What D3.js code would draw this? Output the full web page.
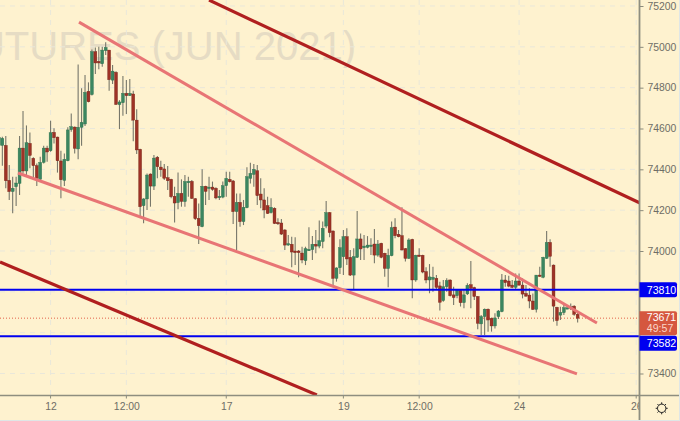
<!DOCTYPE html>
<html><head><meta charset="utf-8">
<script src="https://cdn.jsdelivr.net/npm/d3@7/dist/d3.min.js"></script>
<style>html,body{margin:0;padding:0;background:#fef2cf;overflow:hidden}svg{display:block}text{font-family:"Liberation Sans",Arial,sans-serif}</style>
</head><body><div id="chart"></div>
<script>
const opens=[74517,74517,74517,74346,74291,74315,74331,74504,74392,74527,74454,74418,74351,74434,74504,74491,74581,74558,74441,74346,74442,74594,74607,74500,74606,74622,74782,74766,74976,74929,74917,74981,74984,74837,74875,74717,74726,74772,74761,74769,74641,74498,74222,74255,74377,74318,74459,74411,74402,74359,74351,74268,74237,74282,74242,74336,74341,74256,74160,74119,74317,74307,74313,74307,74261,74264,74320,74351,74343,74193,74238,74144,74212,74356,74375,74393,74279,74250,74222,74188,74209,74140,74137,74103,74029,74033,74000,74000,73990,73953,74002,74007,74033,74024,74046,74122,74188,74098,73866,73918,73972,74070,73969,73882,73969,74059,74016,74018,74024,74034,73980,74038,73989,73914,73977,74117,74082,74075,74011,73964,74057,73858,73980,73979,73899,73858,73861,73866,73829,73757,73825,73858,73785,73781,73806,73747,73790,73835,73821,73777,73643,73679,73715,73670,73633,73679,73703,73858,73853,73833,73822,73853,73833,73792,73784,73755,73714,73882,73871,73964,74042,73931,73724,73686,73698,73719,73722,73730,73690];
const closes=[74557,74552,74344,74291,74307,74333,74504,74392,74530,74468,74418,74356,74434,74504,74485,74579,74555,74442,74349,74449,74593,74609,74503,74606,74630,74777,74731,74976,74921,74921,74984,74997,74839,74881,74718,74730,74772,74761,74772,74641,74495,74217,74255,74372,74318,74455,74413,74398,74356,74344,74266,74235,74282,74243,74340,74341,74258,74158,74124,74317,74292,74313,74302,74260,74268,74320,74356,74339,74193,74238,74144,74214,74364,74380,74400,74271,74250,74201,74184,74214,74135,74134,74083,74029,74036,73995,73992,73992,73956,74011,74008,74033,74024,74051,74111,74188,74090,73866,73917,74016,74070,73961,73882,73972,74059,74010,74024,74029,74029,73980,74034,73969,73915,73979,74114,74075,74070,74005,73964,74054,73858,73979,73975,73897,73858,73873,73871,73822,73749,73825,73855,73781,73772,73809,73747,73785,73832,73817,73777,73646,73679,73715,73662,73633,73672,73706,73858,73845,73828,73822,73853,73833,73789,73779,73755,73714,73882,73877,73969,74042,73974,73730,73659,73699,73722,73722,73727,73690,73671];
const highs=[74642,74560,74563,74421,74364,74364,74563,74686,74615,74581,74459,74429,74462,74516,74516,74638,74601,74560,74491,74478,74606,74674,74610,74914,74797,74862,74826,74987,74997,75000,75000,75022,74984,74911,74881,74739,74857,74837,74842,74785,74694,74501,74258,74380,74380,74470,74465,74442,74426,74416,74354,74315,74385,74351,74372,74364,74348,74260,74233,74400,74320,74364,74340,74312,74299,74340,74388,74388,74348,74282,74282,74250,74410,74432,74426,74421,74356,74307,74266,74258,74214,74160,74157,74106,74078,74070,74067,74005,74021,74021,74116,74073,74103,74149,74144,74245,74191,74101,73920,74057,74103,74111,74005,74013,74196,74086,74078,74073,74062,74108,74054,74041,73992,74011,74144,74160,74103,74214,74015,74062,74060,73982,74013,73982,73920,73936,73923,73882,73850,73858,73866,73861,73825,73812,73809,73812,73842,73951,73825,73780,73687,73718,73718,73674,73695,73711,73887,73882,73879,73858,73890,73890,73866,73833,73817,73792,73882,73923,73972,74098,74058,73934,73727,73727,73743,73735,73743,73734,73699];
const lows=[74462,74418,74307,74250,74185,74220,74274,74380,74372,74405,74356,74318,74348,74429,74437,74486,74527,74384,74258,74318,74439,74584,74478,74449,74516,74612,74728,74762,74867,74890,74903,74960,74785,74818,74715,74597,74663,74671,74759,74537,74475,74168,74136,74201,74217,74299,74356,74364,74348,74299,74258,74140,74204,74217,74217,74266,74255,74152,74034,74116,74225,74250,74295,74253,74250,74258,74266,74336,74132,74005,74119,74127,74209,74331,74315,74225,74209,74160,74181,74184,74132,74127,74078,74005,74026,73920,73931,73871,73940,73931,74000,73956,73989,74013,74013,74111,74067,73829,73850,73887,73882,73931,73878,73812,73966,73956,73956,74013,73980,73940,73972,73964,73874,73822,73974,74062,74067,74002,73948,73961,73768,73850,73972,73891,73842,73793,73801,73809,73708,73752,73801,73777,73736,73768,73728,73719,73785,73719,73760,73617,73589,73589,73605,73605,73621,73667,73700,73825,73823,73817,73814,73830,73768,73776,73719,73711,73699,73874,73866,73961,73923,73654,73634,73662,73686,73716,73711,73683,73650];
const gridPrices=[73400,73600,73800,74000,74200,74400,74600,74800,75000,75200];
const priceTicks=[73400,74000,74200,74400,74600,74800,75000,75200];
const timeTickIndex=[15,37,66,100,122,151,185];
const timeTickLabels=["12","12:00","17","19","12:00","24","26"];
const channelLines=[[61,75229,186.1,74235],[0.32,73946,92.3,73295]];
const wedgeLines=[[23.25,75121,173.6,73647],[5.54,74382,167.8,73398]];
const levels=[73810,73582];
const lastPrice=73671;
const countdown="49:57";
const watermark="FUTURES (JUN 2021)";

const W=680,H=421,axisX=639.5,axisY=395.5;
const x=d3.scaleLinear().domain([0,185]).range([-1.1,636.2]);
const y=d3.scaleLinear().domain([73400,75200]).range([373.5,6]);
const svg=d3.select("#chart").append("svg").attr("width",W).attr("height",H);
svg.append("rect").attr("width",W).attr("height",H).attr("fill","#fef2cf");
const defs=svg.append("defs");
defs.append("clipPath").attr("id","plot").append("rect").attr("width",axisX).attr("height",axisY);
defs.append("filter").attr("id","soft").append("feGaussianBlur").attr("stdDeviation",0.25);

const plot=svg.append("g").attr("clip-path","url(#plot)");
plot.append("text").attr("x",356).attr("y",60).attr("text-anchor","end").attr("font-size",40).attr("font-family","Open Sans").attr("fill","#e6dcc4").text(watermark);

const gridColor="#e9e7da";
plot.append("g").selectAll("line").data(gridPrices).join("line").attr("x1",0).attr("x2",axisX).attr("y1",d=>y(d)).attr("y2",d=>y(d)).attr("stroke",gridColor).attr("stroke-dasharray","5 5");
plot.append("g").selectAll("line").data(timeTickIndex).join("line").attr("x1",d=>x(d)).attr("x2",d=>x(d)).attr("y1",0).attr("y2",axisY).attr("stroke",gridColor).attr("stroke-dasharray","5 5");

plot.append("line").attr("x1",0).attr("x2",axisX).attr("y1",y(lastPrice)).attr("y2",y(lastPrice)).attr("stroke","#e2614a").attr("stroke-dasharray","1 2");

const idx=d3.range(opens.length);
const candles=plot.append("g").attr("filter","url(#soft)");
candles.selectAll("line").data(idx).join("line").attr("x1",i=>x(i)).attr("x2",i=>x(i)).attr("y1",i=>y(highs[i])).attr("y2",i=>y(lows[i])).attr("stroke","#77776a").attr("stroke-width",1.1);
candles.selectAll("rect").data(idx).join("rect")
 .attr("x",i=>x(i)-1.45).attr("width",2.9)
 .attr("y",i=>y(Math.max(opens[i],closes[i])))
 .attr("height",i=>Math.max(1.4,Math.abs(y(opens[i])-y(closes[i]))))
 .attr("fill",i=>closes[i]>=opens[i]?"#3a8660":"#9e3226")
 .attr("stroke",i=>closes[i]>=opens[i]?"#2b6f4c":"#741f16").attr("stroke-width",0.4);

plot.append("g").selectAll("line").data(levels).join("line").attr("x1",0).attr("x2",axisX).attr("y1",d=>y(d)).attr("y2",d=>y(d)).attr("stroke","#0000f0").attr("stroke-width",2);

function drawTrend(data,color,width){
 plot.append("g").selectAll("line").data(data).join("line")
  .attr("x1",d=>x(d[0])).attr("y1",d=>y(d[1])).attr("x2",d=>x(d[2])).attr("y2",d=>y(d[3]))
  .attr("stroke",color).attr("stroke-width",width);
}
drawTrend(channelLines,"#b01f1f",3.2);
drawTrend(wedgeLines,"#e87575",3);

// axes
const yAxis=d3.axisRight(y).tickValues(priceTicks).tickSize(4).tickPadding(4).tickFormat(d3.format("d"));
const ga=svg.append("g").attr("transform",`translate(${axisX},0)`).call(yAxis);
ga.select(".domain").remove();
ga.selectAll("line").attr("stroke","#8b8b7c");
ga.selectAll("text").attr("font-size",10.4).attr("fill","#6e6e66").attr("font-family","Liberation Sans");

defs.append("clipPath").attr("id","xclip").append("rect").attr("width",axisX).attr("height",H);
const xAxis=d3.axisBottom(x).tickValues(timeTickIndex).tickSize(0).tickPadding(7).tickFormat((d,i)=>timeTickLabels[i]);
const gx=svg.append("g").attr("clip-path","url(#xclip)").append("g").attr("transform",`translate(0,${axisY})`).call(xAxis);
gx.select(".domain").remove();
gx.selectAll("text").attr("font-size",10.4).attr("fill","#6e6e66").attr("font-family","Liberation Sans");
svg.append("g").selectAll("line").data(timeTickIndex).join("line").attr("x1",d=>x(d)).attr("x2",d=>x(d)).attr("y1",axisY).attr("y2",axisY+3).attr("stroke","#8b8b7c");

svg.append("line").attr("x1",0).attr("x2",W).attr("y1",axisY).attr("y2",axisY).attr("stroke","#8e8e7f").attr("stroke-width",1.4);
svg.append("line").attr("x1",axisX).attr("x2",axisX).attr("y1",0).attr("y2",H).attr("stroke","#8e8e7f").attr("stroke-width",1.8);

// price labels
function badge(top,h,color){
 const x0=axisX,w=37.5,r=2;
 svg.append("path").attr("d",`M${x0},${top}H${x0+w-r}a${r},${r} 0 0 1 ${r},${r}V${top+h-r}a${r},${r} 0 0 1 ${-r},${r}H${x0}Z`).attr("fill",color);
}
function label(txt,cy,color){
 svg.append("text").attr("x",646.8).attr("y",cy).attr("dy","0.36em").attr("font-size",10.6).attr("font-family","Roboto").attr("font-weight",500).attr("fill",color).text(txt);
}
const yL=y(lastPrice),y1=y(levels[0]),y2=y(levels[1]);
badge(yL-7,24,"#d5573f");
label(d3.format("d")(lastPrice),yL-1,"#ffffff");
label(countdown,yL+10.5,"#fbd5c8");
badge(y1-7.5,15,"#0000f0");
label(levels[0],y1,"#ffffff");
badge(y2-0.5,15,"#0000f0");
label(levels[1],y2+7,"#ffffff");

// settings icon
const gear=svg.append("g").attr("transform","translate(661.7,408.3)").attr("fill","none").attr("stroke","#222").attr("stroke-width",1);
gear.append("circle").attr("r",4.2);
d3.range(8).forEach(k=>{const a=k*Math.PI/4;gear.append("line").attr("x1",4.2*Math.cos(a)).attr("y1",4.2*Math.sin(a)).attr("x2",6*Math.cos(a)).attr("y2",6*Math.sin(a));});

// edge
svg.append("line").attr("x1",0).attr("x2",W).attr("y1",420.5).attr("y2",420.5).attr("stroke","#dfe6e6");
svg.append("line").attr("x1",679.5).attr("x2",679.5).attr("y1",0).attr("y2",H).attr("stroke","#dfe6e6");
</script></body></html>
